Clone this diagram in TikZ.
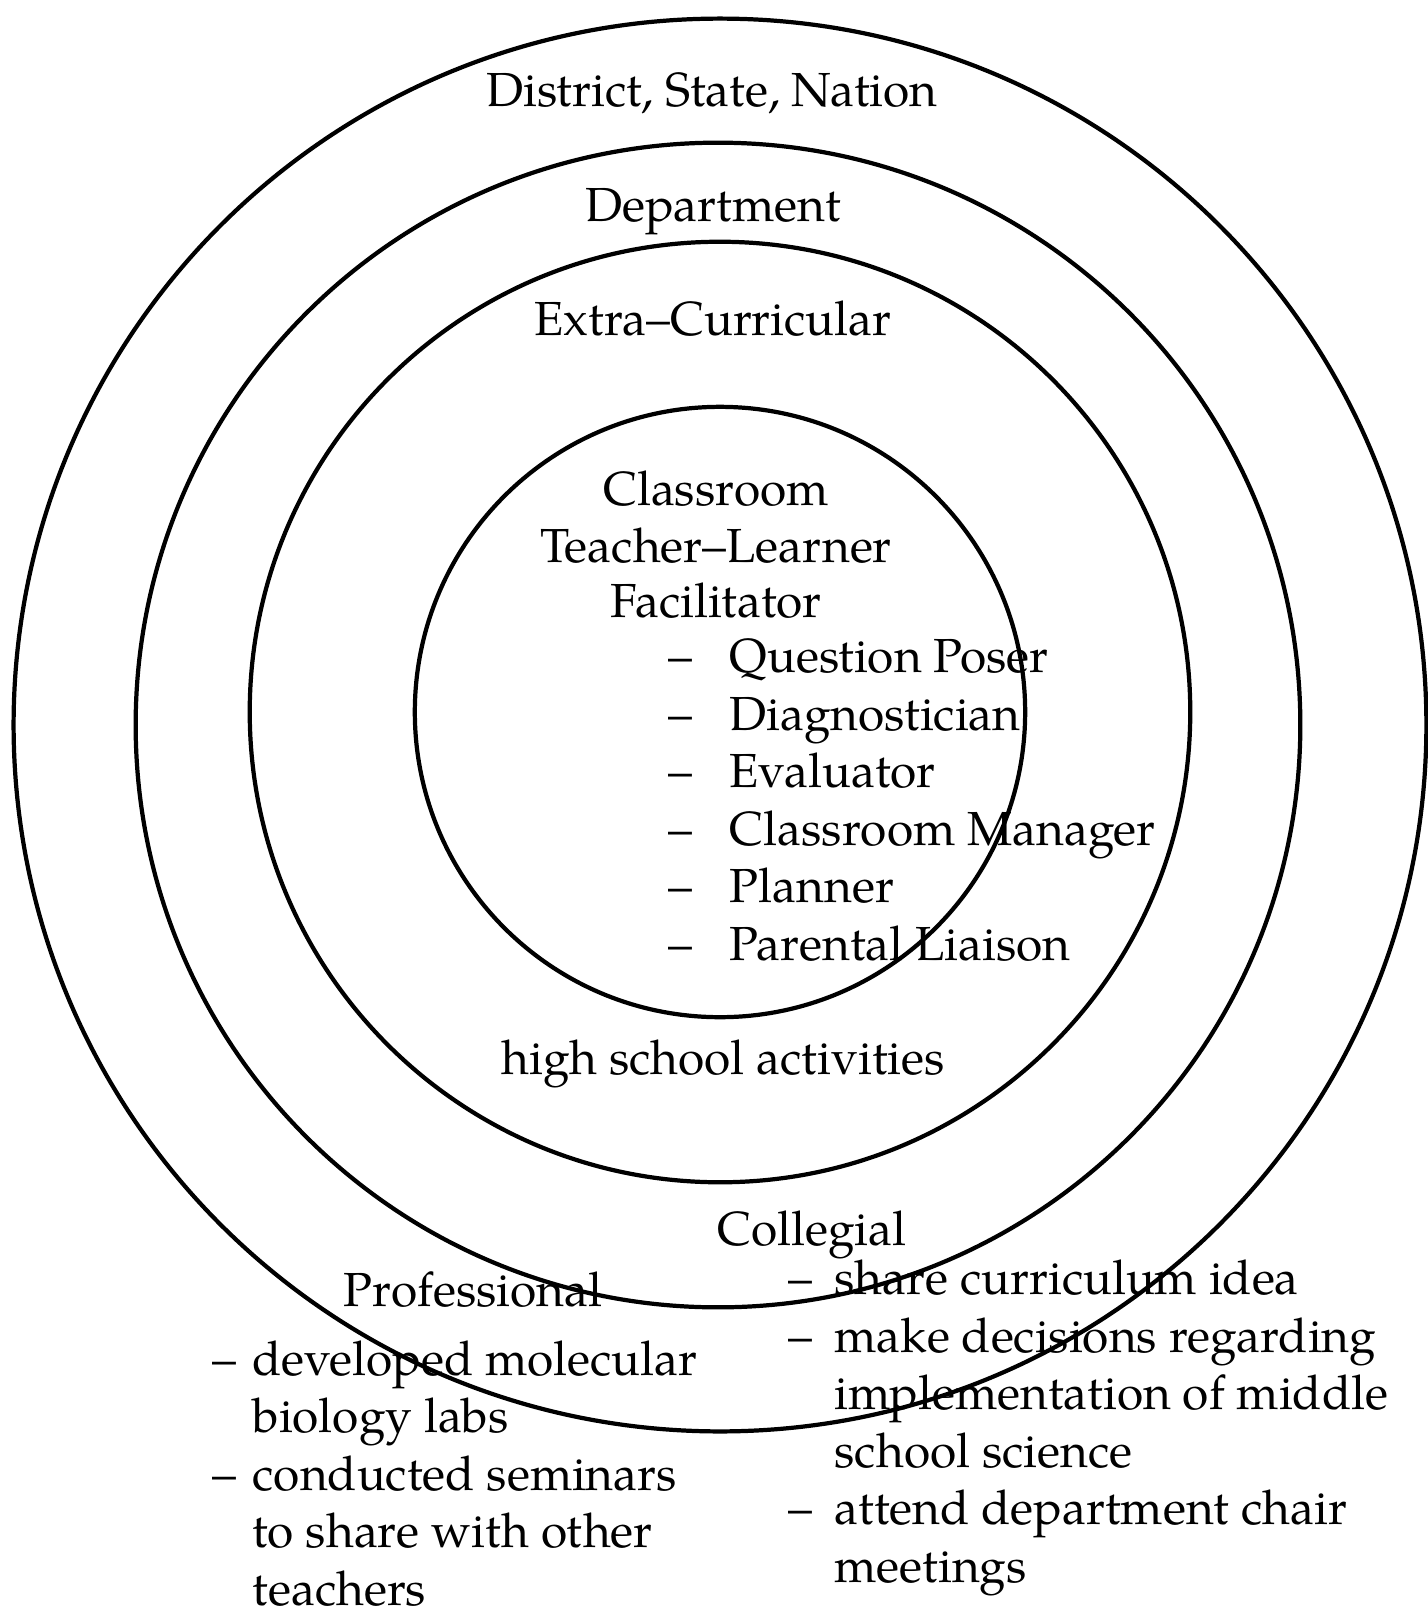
\documentclass[tikz,border=0pt]{standalone}
\usepackage{fontspec}
\setmainfont{texgyrepagella}[Extension=.otf, UprightFont=*-regular, BoldFont=*-bold, ItalicFont=*-italic, BoldItalicFont=*-bolditalic]
\usetikzlibrary{positioning}

\newcommand{\ringfont}{\fontsize{13.6}{16.35}\selectfont}
\newcommand{\itemdash}[1]{\llap{--\hspace{#1}}}

\tikzset{
  ring/.style = {circle, draw, line width = 1.2pt, inner sep = 0pt},
  title/.style = {inner sep = 0pt, anchor = base},
  % multi-line lists: base is the baseline of the last line
  roles/.style = {inner sep = 0pt, align = left, anchor = base west}
}

\begin{document}
\begin{tikzpicture}[x = 0.01cm, y = -0.01cm, font = \ringfont]
  \useasboundingbox (0,0) rectangle (1428,1611);

  % the four rings, outside in
  \node [ring, minimum size = 14.12cm] (nation) at (720,725) {};
  \node [ring, minimum size = 11.64cm] (dept) at (718,725) {};
  \node [ring, minimum size = 9.40cm] (extra) at (720,712) {};
  \node [ring, minimum size = 6.10cm] (class) at (720,712) {};

  \node [title] (nationlbl) at (712,106) {District, State, Nation};
  \node [title] (deptlbl) at (713,221) {Department};
  \node [title] (extralbl) at (713,335) {Extra--Curricular};

  \node [title] (classlbl) at (716,505) {Classroom};
  \node [title] (teachlbl) at (716,562) {Teacher--Learner};
  \node [title] (facillbl) at (716,617) {Facilitator};
  \node [roles] (facilroles) at (729,960) {\itemdash{0.78em}Question Poser\\
        \itemdash{0.78em}Diagnostician\\
        \itemdash{0.78em}Evaluator\\
        \itemdash{0.78em}Classroom Manager\\
        \itemdash{0.78em}Planner\\
        \itemdash{0.78em}Parental Liaison};

  \node [title] (hslbl) at (723,1074) {high school activities};

  \node [title] (colllbl) at (812,1245) {Collegial};
  \node [roles] (collroles) at (834,1582) {\itemdash{0.47em}share curriculum idea\\
        \itemdash{0.47em}make decisions regarding\\
        implementation of middle\\
        school science\\
        \itemdash{0.47em}attend department chair\\
        meetings};

  \node [title] (proflbl) at (473,1306) {Professional};
  \node [roles] (profroles) at (252,1605) {\itemdash{0.34em}developed molecular\\
        biology labs\\
        \itemdash{0.34em}conducted seminars\\
        to share with other\\
        teachers};
\end{tikzpicture}
\end{document}
